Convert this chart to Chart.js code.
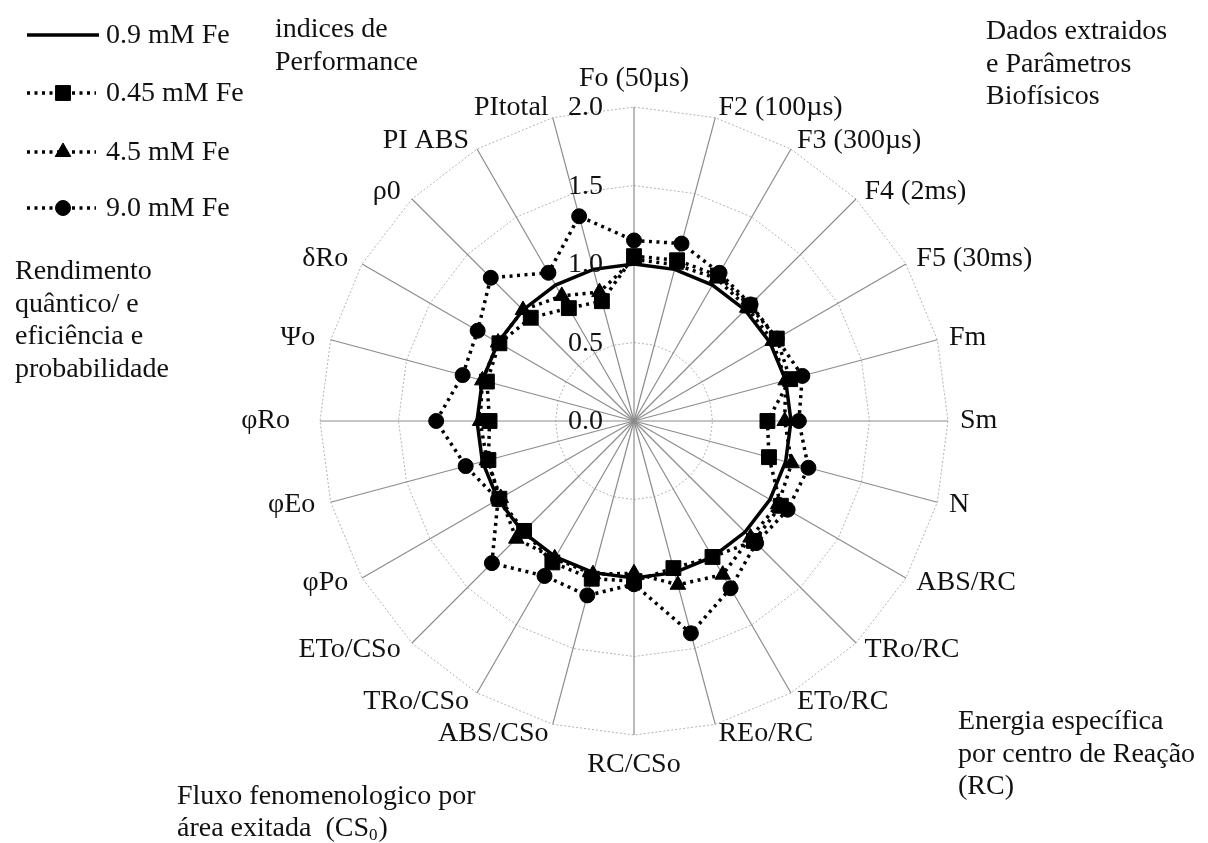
<!DOCTYPE html>
<html>
<head>
<meta charset="utf-8">
<script src="https://cdn.jsdelivr.net/npm/chart.js@4.4.1/dist/chart.umd.min.js"></script>
<style>
  html, body { margin: 0; padding: 0; background: #ffffff; }
  #wrap { width: 1208px; height: 843px; position: relative; }
</style>
</head>
<body>
<div id="wrap"><canvas id="c" width="1208" height="843"></canvas></div>
<script>
// Parameters of the OJIP test, clockwise from the top
const parameters = [
  'Fo (50µs)', 'F2 (100µs)', 'F3 (300µs)', 'F4 (2ms)', 'F5 (30ms)', 'Fm', 'Sm', 'N',
  'ABS/RC', 'TRo/RC', 'ETo/RC', 'REo/RC', 'RC/CSo', 'ABS/CSo', 'TRo/CSo', 'ETo/CSo',
  'φPo', 'φEo', 'φRo', 'Ψo', 'δRo', 'ρ0', 'PI ABS', 'PItotal'
];

// Values relative to the 0.9 mM Fe reference
const fe090 = [1, 1, 1, 1, 1, 1, 1, 1, 1, 1, 1, 1, 1, 1, 1, 1, 1, 1, 1, 1, 1, 1, 1, 1];
const fe045 = [1.05, 1.06, 1.07, 1.04, 1.05, 1.03, 0.85, 0.89, 1.08, 1.08, 1.00, 0.97,
               1.02, 1.04, 1.04, 0.99, 0.99, 0.96, 0.92, 0.97, 0.99, 0.93, 0.83, 0.79];
const fe450 = [1.03, 1.03, 1.05, 1.02, 1.02, 1.00, 0.96, 1.04, 1.06, 1.05, 1.13, 1.08,
               0.97, 1.01, 1.01, 1.06, 0.98, 0.97, 0.98, 1.00, 1.00, 1.00, 0.92, 0.85];
const fe900 = [1.15, 1.17, 1.09, 1.05, 1.05, 1.11, 1.05, 1.15, 1.13, 1.10, 1.23, 1.40,
               1.04, 1.15, 1.14, 1.28, 1.00, 1.11, 1.26, 1.13, 1.15, 1.29, 1.09, 1.35];

const seriesNames = ['0.9 mM Fe', '0.45 mM Fe', '4.5 mM Fe', '9.0 mM Fe'];
const tickValues = [0, 0.5, 1.0, 1.5, 2.0];

// Group captions placed around the radar
const groupNotes = [
  { lines: ['indices de', 'Performance'], x: 275, y: 30 },
  { lines: ['Dados extraidos', 'e Parâmetros', 'Biofísicos'], x: 986, y: 32 },
  { lines: ['Rendimento', 'quântico/ e', 'eficiência e', 'probabilidade'], x: 15, y: 272 },
  { lines: ['Energia específica', 'por centro de Reação', '(RC)'], x: 958, y: 722 }
];

const SERIF = '"Liberation Serif", "Times New Roman", serif';
const FONT = '28px ' + SERIF;

const dotted = [3, 4.5];

function makeSet(label, data, style, dash, radius) {
  return {
    label: label,
    data: data,
    borderColor: '#000',
    backgroundColor: 'rgba(0,0,0,0)',
    borderWidth: 3.5,
    borderDash: dash,
    fill: false,
    pointStyle: style,
    pointRadius: radius,
    pointHoverRadius: radius,
    pointBackgroundColor: '#000',
    pointBorderColor: '#000',
    pointBorderWidth: 1
  };
}

const datasets = [
  makeSet(seriesNames[0], fe090, 'circle', [], 0),
  makeSet(seriesNames[1], fe045, 'rect', dotted, 10.5),
  makeSet(seriesNames[2], fe450, 'triangle', dotted, 9),
  makeSet(seriesNames[3], fe900, 'circle', dotted, 7.5)
];

// Draws tick values, axis names, legend and captions
const textLayer = {
  id: 'textLayer',
  afterDraw(chart) {
    const ctx = chart.ctx;
    const scale = chart.scales.r;
    ctx.save();
    ctx.fillStyle = '#111';
    ctx.font = FONT;
    ctx.textBaseline = 'middle';

    // tick values to the left of the vertical axis
    ctx.textAlign = 'right';
    scale.ticks.forEach(t => {
      const y = scale.yCenter - scale.getDistanceFromCenterForValue(t.value);
      ctx.fillText(t.value.toFixed(1), scale.xCenter - 31, y + 1);
    });

    // axis names
    chart.data.labels.forEach((name, i) => {
      const th = scale.getIndexAngle(i);
      const p = scale.getPointPosition(i, scale.drawingArea);
      const s = Math.sin(th), c = Math.cos(th);
      let x = p.x, y = p.y;
      if (Math.abs(s) < 0.01) {
        ctx.textAlign = 'center';
        y += c > 0 ? -28 : 30;
      } else if (s > 0) {
        ctx.textAlign = 'left';
        x += 12 * s;
        y -= 10 * c;
      } else {
        ctx.textAlign = 'right';
        x += Math.abs(c) < 0.01 ? -30 : 16 * s;
        y -= 10 * c;
      }
      ctx.fillText(name, x, y);
    });

    // legend
    const rows = [35, 93, 152, 208];
    chart.data.datasets.forEach((ds, i) => {
      const y = rows[i];
      ctx.save();
      ctx.strokeStyle = ds.borderColor;
      ctx.lineWidth = ds.borderWidth;
      ctx.setLineDash(ds.borderDash);
      ctx.beginPath();
      ctx.moveTo(27, y);
      ctx.lineTo(ds.pointRadius ? 96 : 99, y);
      ctx.stroke();
      ctx.restore();
      if (ds.pointRadius) {
        ctx.save();
        ctx.fillStyle = ds.pointBackgroundColor;
        ctx.strokeStyle = ds.pointBorderColor;
        ctx.lineWidth = 1;
        Chart.helpers.drawPoint(ctx, {
          pointStyle: ds.pointStyle, radius: ds.pointRadius, rotation: 0, borderWidth: 1
        }, 63, y);
        ctx.restore();
      }
      ctx.textAlign = 'left';
      ctx.fillText(ds.label, 106, y + 1);
    });

    // captions
    ctx.textAlign = 'left';
    groupNotes.forEach(n => {
      n.lines.forEach((ln, k) => ctx.fillText(ln, n.x, n.y + k * 32.5));
    });

    // caption with subscript
    ctx.fillText('Fluxo fenomenologico por', 177, 797);
    const base = 'área exitada  (CS';
    ctx.fillText(base, 177, 829);
    let xx = 177 + ctx.measureText(base).width;
    ctx.font = '17px ' + SERIF;
    ctx.fillText('0', xx, 836);
    xx += ctx.measureText('0').width + 1;
    ctx.font = FONT;
    ctx.fillText(')', xx, 829);

    ctx.restore();
  }
};

new Chart(document.getElementById('c'), {
  type: 'radar',
  data: { labels: parameters, datasets: datasets },
  options: {
    responsive: false,
    animation: false,
    devicePixelRatio: 1,
    layout: { padding: { left: 320, right: 260, top: 107, bottom: 108 } },
    plugins: { legend: { display: false }, tooltip: { enabled: false } },
    elements: { line: { tension: 0 } },
    scales: {
      r: {
        min: tickValues[0],
        max: tickValues[tickValues.length - 1],
        ticks: { display: false, stepSize: 0.5 },
        pointLabels: { display: false },
        grid: { circular: false, color: '#b4b4b4', lineWidth: 1 },
        border: { dash: [2, 2] },
        angleLines: { display: true, color: '#8c8c8c', lineWidth: 1.2 }
      }
    }
  },
  plugins: [textLayer]
});
</script>
</body>
</html>
